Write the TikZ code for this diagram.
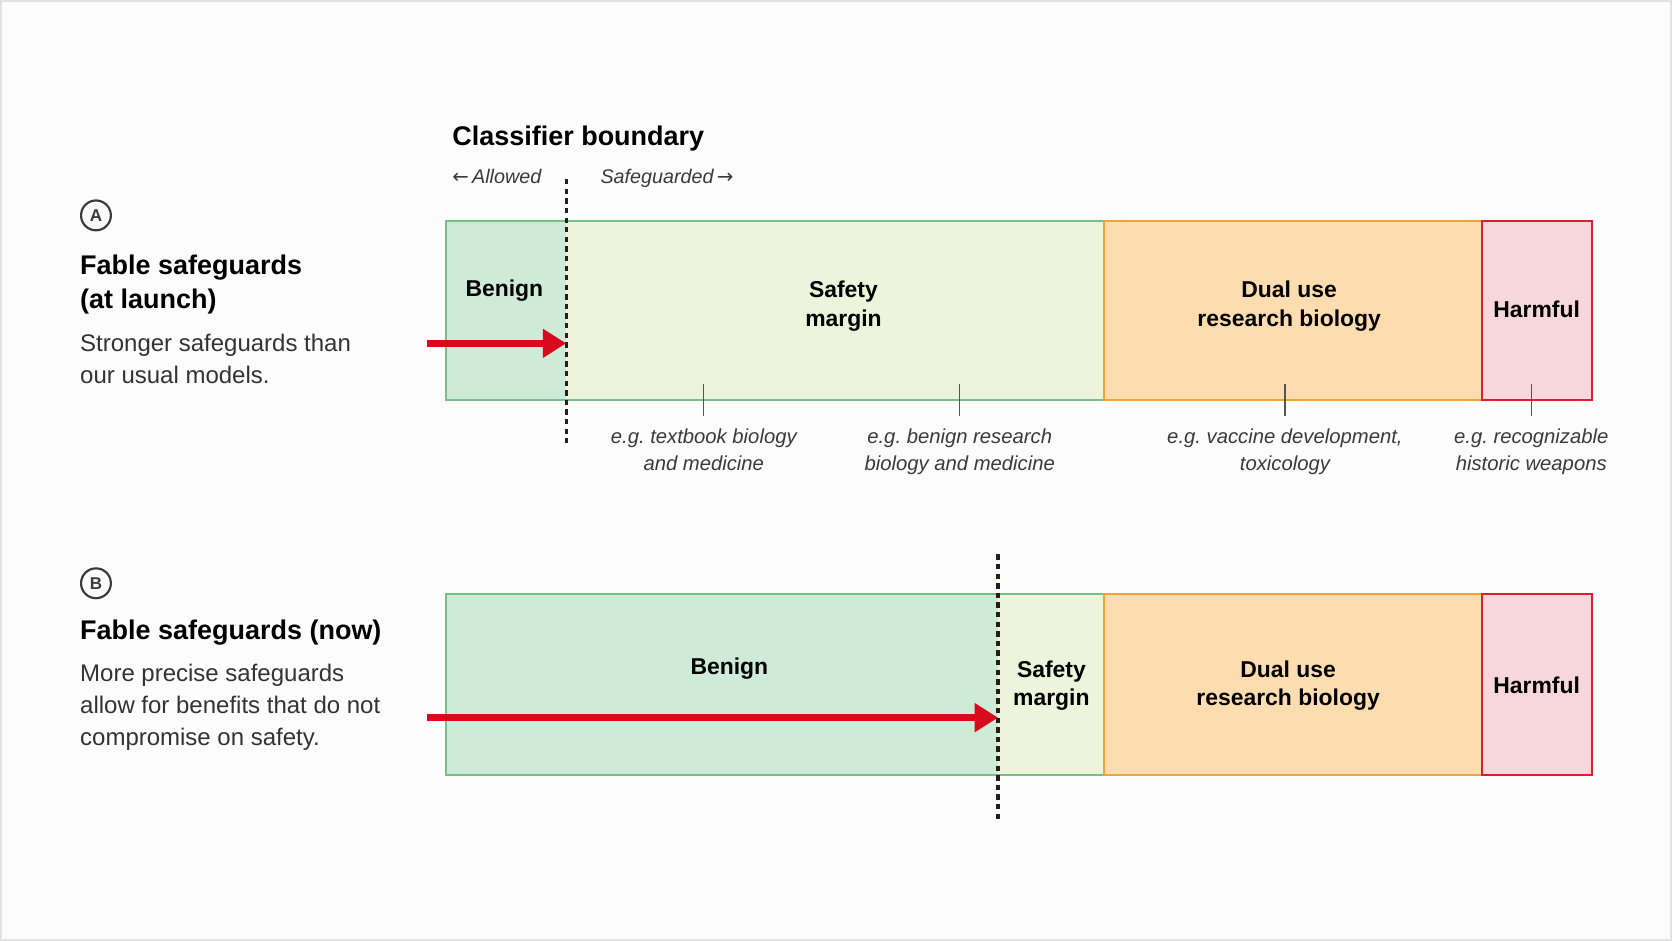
\documentclass[tikz,border=0pt]{standalone}
\usepackage{fontspec}
\setmainfont{Liberation Sans}
\newfontfamily\arrowfont{DejaVu Sans}
\usetikzlibrary{arrows.meta}

\definecolor{bgcol}{HTML}{FCFCFC}
\definecolor{framecol}{HTML}{E2E2E2}
\definecolor{benignfill}{HTML}{CDEBD7}
\definecolor{safetyfill}{HTML}{EEF3DB}
\definecolor{dualfill}{HTML}{FDDDB0}
\definecolor{harmfill}{HTML}{F8D7DC}
\definecolor{greenline}{HTML}{74C08A}
\definecolor{orangeline}{HTML}{F0A338}
\definecolor{redline}{HTML}{DC1F31}
\definecolor{arrowred}{HTML}{D80A1E}
\definecolor{boundcol}{HTML}{2B1B1B}
\definecolor{tickgray}{HTML}{555555}
\definecolor{egtext}{HTML}{3A3A3A}
\definecolor{bodytext}{HTML}{333333}
\definecolor{badgecol}{HTML}{3A3A3A}

\begin{document}
\frenchspacing
\begin{tikzpicture}[x=1pt,y=-1pt,
  lbl/.style={font=\fontsize{21.5}{27}\selectfont\bfseries, align=center, inner sep=0pt},
  eg/.style={font=\fontsize{19}{25}\selectfont\itshape, text=egtext, align=center, anchor=north, inner sep=0pt},
  egtick/.style={draw=tickgray, line width=1.3pt},
  boundary/.style={draw=boundcol, line width=3pt, dash pattern=on 5pt off 4pt},
  pointer/.style={draw=arrowred, line width=7pt, -{Triangle[length=22pt,width=26pt]}},
  badge/.style={circle, draw=badgecol, line width=2pt, minimum size=28pt, inner sep=0pt,
    font=\fontsize{16}{16}\selectfont\bfseries, text=badgecol},
  head/.style={font=\fontsize{25.3}{32}\selectfont\bfseries, align=left, inner sep=0pt, anchor=north west},
  body/.style={font=\fontsize{22.5}{30}\selectfont, text=bodytext, align=left, inner sep=0pt, anchor=north west},
  hint/.style={anchor=base west, inner sep=0pt, font=\fontsize{18.5}{18.5}\selectfont\itshape, text=egtext}]

   % page
   \fill[bgcol] (0,0) rectangle (1568,882);
   \draw[framecol, line width=1.5pt] (0.75,0.75) rectangle (1567.25,881.25);

   % header
   \node[anchor=west, inner sep=0pt, font=\fontsize{25.3}{25.3}\selectfont\bfseries] (clsTitle) at (424,130) {Classifier boundary};
   \node[hint] (allowed) at (424,172) {{\arrowfont\upshape ←}\,Allowed};
   \node[hint] (guarded) at (563,172) {Safeguarded\,{\arrowfont\upshape →}};

   % panel A
   \node[badge] (badgeA) at (90,202) {A};
   \node[head] (titleA) at (75,239) {Fable safeguards\\(at launch)};
   \node[body] (textA) at (75,313) {Stronger safeguards than\\our usual models.};

   \fill[benignfill] (418,207) rectangle (531,375);
   \fill[safetyfill] (531,207) rectangle (1035,375);
   \draw[greenline, line width=2pt] (1035,207) -- (418,207) -- (418,375) -- (1035,375);
   \draw[orangeline, fill=dualfill, line width=2pt] (1035,207) rectangle (1390,375);
   \draw[redline, fill=harmfill, line width=2pt] (1390,207) rectangle (1493,375);

   \node[lbl] (benignA) at (473,273) {Benign};
   \node[lbl] (safetyA) at (791,287) {Safety\\margin};
   \node[lbl] (dualA) at (1209,287) {Dual use\\research biology};
   \node[lbl] (harmA) at (1441,290) {Harmful};

   \node[eg] (egA1) at (660,402) {e.g. textbook biology\\and medicine};
   \node[eg] (egA2) at (900,402) {e.g. benign research\\biology and medicine};
   \node[eg] (egA3) at (1205,402) {e.g. vaccine development,\\toxicology};
   \node[eg] (egA4) at (1436,402) {e.g. recognizable\\historic weapons};
   \foreach \n in {egA1,egA2,egA3,egA4}
     \draw[egtick] ([yshift=12pt]\n.north) -- ++(0,-30);

   \coordinate (bndAtop) at (531,168);
   \coordinate (bndAbot) at (531,415);
   \draw[boundary] (bndAtop) -- (bndAbot);
   \coordinate (srcA) at (400,322);
   \draw[pointer] (srcA) -- (srcA -| bndAtop);

   % panel B
   \node[badge] (badgeB) at (90,547) {B};
   \node[head] (titleB) at (75,581) {Fable safeguards (now)};
   \node[body] (textB) at (75,623) {More precise safeguards\\allow for benefits that do not\\compromise on safety.};

   \fill[benignfill] (418,557) rectangle (936,727);
   \fill[safetyfill] (936,557) rectangle (1035,727);
   \draw[greenline, line width=2pt] (1035,557) -- (418,557) -- (418,727) -- (1035,727);
   \draw[orangeline, fill=dualfill, line width=2pt] (1035,557) rectangle (1390,727);
   \draw[redline, fill=harmfill, line width=2pt] (1390,557) rectangle (1493,727);

   \node[lbl] (benignB) at (684,627) {Benign};
   \node[lbl] (safetyB) at (986,643) {Safety\\margin};
   \node[lbl] (dualB) at (1208,643) {Dual use\\research biology};
   \node[lbl] (harmB) at (1441,643) {Harmful};

   \coordinate (bndBtop) at (936,520);
   \coordinate (bndBbot) at (936,768);
   \draw[boundary] (bndBtop) -- (bndBbot);
   \coordinate (srcB) at (400,673);
   \draw[pointer] (srcB) -- (srcB -| bndBtop);

\end{tikzpicture}
\end{document}
